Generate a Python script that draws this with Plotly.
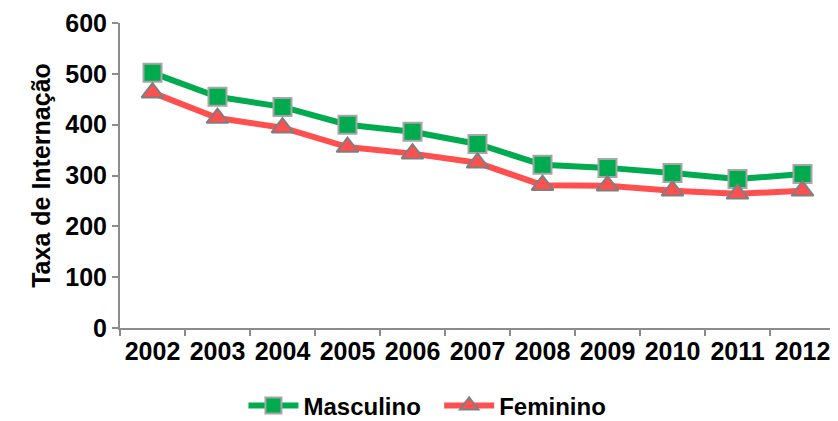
import plotly.graph_objects as go

anos = ["2002", "2003", "2004", "2005", "2006", "2007", "2008", "2009", "2010", "2011", "2012"]
masculino = [502, 455, 435, 400, 386, 362, 321, 315, 305, 293, 303]
feminino = [463, 413, 394, 356, 343, 325, 281, 280, 270, 264, 270]

FAM = "Liberation Sans, Arial, sans-serif"

fig = go.Figure()
fig.add_trace(go.Scatter(
    x=anos, y=masculino, name="<b>Masculino</b>&nbsp;&nbsp;", mode="lines+markers",
    line=dict(color="#00AA4F", width=6),
    marker=dict(symbol="square", size=18, color="#00AA4F", line=dict(color="#A6A6A6", width=2)),
))
fig.add_trace(go.Scatter(
    x=anos, y=feminino, name="<b>Feminino</b>", mode="lines+markers",
    line=dict(color="#FF4F4F", width=6),
    marker=dict(symbol="triangle-up", size=19, color="#FF4F4F", line=dict(color="#7F7F7F", width=2)),
))

fig.update_layout(
    width=830, height=413,
    margin=dict(l=112, r=3, t=15, b=93, autoexpand=False),
    plot_bgcolor="white", paper_bgcolor="white",
    font=dict(family=FAM, size=25, color="black"),
    showlegend=True,
    legend=dict(orientation="h", x=0.43, xanchor="center", y=-0.255, yanchor="middle",
                font=dict(family=FAM, size=24, color="black"),
                itemwidth=50, tracegroupgap=0),
    xaxis=dict(type="category", showline=True, linecolor="#8C8C8C", linewidth=2,
               ticks="outside", tickson="boundaries", ticklen=6, tickcolor="#8C8C8C", tickwidth=2,
               tickangle=0,
               tickfont=dict(family=FAM, size=25, color="black", weight="bold"),
               showgrid=False, range=[-0.5, 10.5], automargin=False),
    yaxis=dict(range=[0, 600], dtick=100, showline=True, linecolor="#8C8C8C", linewidth=2,
               ticks="outside", ticklen=6, tickcolor="#8C8C8C", tickwidth=2, showgrid=False,
               zeroline=False, automargin=False,
               tickfont=dict(family=FAM, size=25, color="black", weight="bold"),
               title=dict(text="<b>Taxa de Internação</b>", standoff=8,
                          font=dict(family=FAM, size=25, color="black"))),
)
fig.write_html("out.html")
